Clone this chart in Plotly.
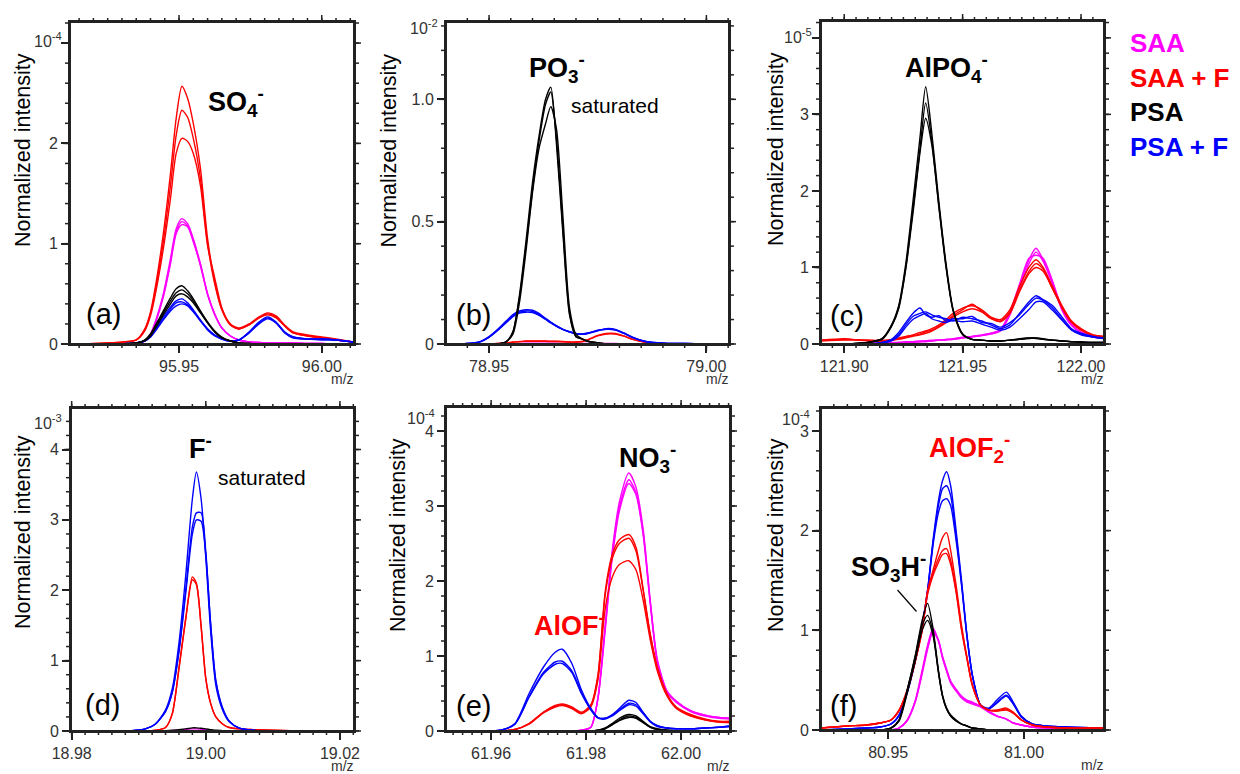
import math
import plotly.graph_objects as go

# Reference canvas is 1240x774; the page adds an 8 px body margin, so the figure is
# drawn 8 px smaller and all reference pixel positions are shifted by that offset.
REF_W, REF_H = 1240, 774
OFF = 8
W, H = REF_W - OFF, REF_H - OFF

# ---------------- data ----------------
# (a) SO4-
xa = [95.912, 95.925, 95.935, 95.938, 95.940, 95.942, 95.9445, 95.947, 95.949, 95.951, 95.953, 95.955, 95.9575, 95.960,
      95.9625, 95.965, 95.968, 95.971, 95.9745, 95.978, 95.981, 95.984, 95.987, 95.990, 95.995, 96.000, 96.005, 96.011]
a_saa_1 = [0, 0, 0.005, 0.03, 0.10, 0.25, 0.50, 0.85, 1.15, 1.25, 1.20, 1.05, 0.80, 0.50, 0.30, 0.16, 0.08, 0.04, 0.02, 0.015, 0.01, 0.01, 0.01, 0.01, 0.005, 0.005, 0, 0]
a_saa_2 = [0, 0, 0.005, 0.03, 0.09, 0.24, 0.48, 0.82, 1.12, 1.22, 1.18, 1.03, 0.78, 0.49, 0.29, 0.16, 0.08, 0.04, 0.02, 0.015, 0.01, 0.01, 0.01, 0.01, 0.005, 0.005, 0, 0]
a_saa_3 = [0, 0, 0.005, 0.03, 0.09, 0.23, 0.47, 0.80, 1.10, 1.19, 1.17, 1.02, 0.79, 0.50, 0.30, 0.16, 0.08, 0.04, 0.02, 0.015, 0.01, 0.01, 0.01, 0.01, 0.005, 0.005, 0, 0]
a_saaf_1 = [0.0, 0.01, 0.04, 0.15, 0.32, 0.62, 1.10, 1.70, 2.25, 2.57, 2.45, 2.20, 1.75, 1.05, 0.62, 0.35, 0.20, 0.16, 0.20, 0.27, 0.31, 0.28, 0.19, 0.12, 0.09, 0.07, 0.05, 0.02]
a_saaf_2 = [0.0, 0.01, 0.04, 0.14, 0.30, 0.58, 1.02, 1.58, 2.08, 2.33, 2.26, 2.05, 1.65, 1.00, 0.60, 0.34, 0.19, 0.15, 0.19, 0.26, 0.30, 0.27, 0.18, 0.11, 0.08, 0.06, 0.04, 0.02]
a_saaf_3 = [0.0, 0.01, 0.04, 0.13, 0.28, 0.54, 0.95, 1.45, 1.90, 2.05, 2.02, 1.90, 1.58, 0.98, 0.66, 0.36, 0.19, 0.15, 0.19, 0.26, 0.29, 0.26, 0.18, 0.11, 0.08, 0.06, 0.04, 0.02]
a_psa_1 = [0, 0, 0.01, 0.04, 0.10, 0.20, 0.33, 0.46, 0.55, 0.58, 0.53, 0.45, 0.33, 0.22, 0.13, 0.07, 0.03, 0.01, 0.005, 0, 0, 0, 0, 0, 0, 0, 0, 0]
a_psa_2 = [0, 0, 0.01, 0.04, 0.09, 0.19, 0.31, 0.43, 0.51, 0.54, 0.50, 0.43, 0.32, 0.21, 0.12, 0.06, 0.03, 0.01, 0.005, 0, 0, 0, 0, 0, 0, 0, 0, 0]
a_psa_3 = [0, 0, 0.01, 0.03, 0.08, 0.17, 0.29, 0.40, 0.48, 0.50, 0.47, 0.41, 0.31, 0.21, 0.12, 0.06, 0.03, 0.01, 0.005, 0, 0, 0, 0, 0, 0, 0, 0, 0]
a_psaf_1 = [0, 0, 0.01, 0.03, 0.08, 0.16, 0.27, 0.37, 0.43, 0.45, 0.41, 0.34, 0.24, 0.15, 0.09, 0.05, 0.03, 0.04, 0.12, 0.22, 0.27, 0.22, 0.12, 0.07, 0.05, 0.05, 0.04, 0.02]
a_psaf_2 = [0, 0, 0.01, 0.03, 0.07, 0.15, 0.25, 0.35, 0.41, 0.42, 0.39, 0.33, 0.23, 0.15, 0.09, 0.05, 0.03, 0.04, 0.11, 0.21, 0.26, 0.21, 0.12, 0.07, 0.05, 0.05, 0.04, 0.02]
a_psaf_3 = [0, 0, 0.01, 0.03, 0.07, 0.14, 0.24, 0.33, 0.38, 0.40, 0.38, 0.32, 0.23, 0.14, 0.08, 0.05, 0.03, 0.04, 0.11, 0.20, 0.25, 0.21, 0.11, 0.06, 0.05, 0.04, 0.04, 0.02]

# (b) PO3-
xb = [78.940, 78.945, 78.948, 78.950, 78.952, 78.954, 78.9555, 78.957, 78.9585, 78.960, 78.9615, 78.963, 78.9642, 78.9655,
      78.967, 78.9685, 78.970, 78.9715, 78.973, 78.975, 78.977, 78.979, 78.981, 78.983, 78.986, 78.990, 78.995, 79.000, 79.0052]
b_saa_1 = [0, 0, 0, 0, 0, 0, 0.001, 0.002, 0.003, 0.003, 0.003, 0.003, 0.003, 0.003, 0.002, 0.002, 0.002, 0.002, 0.002, 0.002, 0.002, 0.002, 0.001, 0.001, 0, 0, 0, 0, 0]
b_saaf_1 = [0, 0, 0, 0, 0.002, 0.005, 0.008, 0.010, 0.012, 0.012, 0.012, 0.012, 0.011, 0.011, 0.010, 0.008, 0.008, 0.010, 0.020, 0.035, 0.043, 0.043, 0.033, 0.020, 0.007, 0.002, 0, 0, 0]
b_saaf_2 = [0, 0, 0, 0, 0.002, 0.004, 0.007, 0.009, 0.011, 0.011, 0.011, 0.011, 0.010, 0.010, 0.009, 0.008, 0.008, 0.010, 0.019, 0.033, 0.041, 0.041, 0.032, 0.019, 0.007, 0.002, 0, 0, 0]
b_psa_1 = [0, 0, 0, 0, 0, 0.01, 0.05, 0.20, 0.42, 0.66, 0.85, 1.00, 1.05, 0.82, 0.45, 0.12, 0.03, 0.02, 0.01, 0.005, 0, 0, 0, 0, 0, 0, 0, 0, 0]
b_psa_2 = [0, 0, 0, 0, 0, 0.01, 0.05, 0.19, 0.40, 0.63, 0.83, 0.98, 1.03, 0.84, 0.47, 0.13, 0.03, 0.02, 0.01, 0.005, 0, 0, 0, 0, 0, 0, 0, 0, 0]
b_psa_3 = [0, 0, 0, 0, 0, 0.01, 0.04, 0.17, 0.38, 0.62, 0.80, 0.90, 0.97, 0.88, 0.52, 0.15, 0.04, 0.02, 0.01, 0.005, 0, 0, 0, 0, 0, 0, 0, 0, 0]
b_psaf_1 = [0, 0.002, 0.010, 0.030, 0.060, 0.095, 0.120, 0.135, 0.140, 0.138, 0.125, 0.105, 0.090, 0.075, 0.060, 0.050, 0.042, 0.040, 0.045, 0.055, 0.063, 0.060, 0.045, 0.028, 0.010, 0.003, 0.002, 0.001, 0]
b_psaf_2 = [0, 0.002, 0.010, 0.028, 0.058, 0.090, 0.115, 0.130, 0.135, 0.133, 0.120, 0.102, 0.088, 0.073, 0.060, 0.050, 0.043, 0.041, 0.046, 0.056, 0.062, 0.059, 0.045, 0.027, 0.010, 0.003, 0.002, 0.001, 0]
b_psaf_3 = [0, 0.002, 0.009, 0.027, 0.055, 0.088, 0.112, 0.126, 0.130, 0.128, 0.117, 0.100, 0.086, 0.072, 0.059, 0.049, 0.042, 0.040, 0.044, 0.054, 0.060, 0.057, 0.043, 0.026, 0.010, 0.003, 0.002, 0.001, 0]

# (c) AlPO4-
xc = [121.8902, 121.900, 121.910, 121.916, 121.920, 121.923, 121.926, 121.929, 121.932, 121.9344, 121.937, 121.940, 121.943, 121.946, 121.950,
      121.954, 121.958, 121.962, 121.966, 121.970, 121.974, 121.978, 121.981, 121.984, 121.988, 121.992, 121.996, 122.000, 122.005, 122.0097]
c_saa_1 = [0, 0, 0.01, 0.01, 0.02, 0.02, 0.03, 0.03, 0.04, 0.04, 0.05, 0.05, 0.06, 0.07, 0.09, 0.10, 0.12, 0.14, 0.18, 0.40, 0.75, 1.10, 1.25, 1.10, 0.80, 0.45, 0.25, 0.15, 0.10, 0.07]
c_saa_2 = [0, 0, 0, 0.01, 0.01, 0.02, 0.02, 0.03, 0.03, 0.04, 0.04, 0.05, 0.05, 0.06, 0.08, 0.10, 0.11, 0.13, 0.17, 0.38, 0.72, 1.05, 1.20, 1.08, 0.78, 0.44, 0.24, 0.15, 0.09, 0.07]
c_saa_3 = [0, 0, 0.01, 0.01, 0.01, 0.02, 0.02, 0.02, 0.03, 0.03, 0.04, 0.05, 0.06, 0.06, 0.08, 0.09, 0.11, 0.14, 0.19, 0.42, 0.78, 1.12, 1.16, 1.12, 0.82, 0.46, 0.26, 0.16, 0.10, 0.08]
c_saaf_1 = [0.05, 0.06, 0.05, 0.04, 0.06, 0.08, 0.10, 0.12, 0.15, 0.17, 0.20, 0.25, 0.32, 0.40, 0.47, 0.50, 0.45, 0.35, 0.32, 0.45, 0.75, 1.00, 1.10, 1.00, 0.75, 0.50, 0.30, 0.20, 0.12, 0.10]
c_saaf_2 = [0.05, 0.07, 0.04, 0.05, 0.05, 0.07, 0.09, 0.11, 0.13, 0.16, 0.18, 0.23, 0.30, 0.37, 0.45, 0.52, 0.43, 0.33, 0.30, 0.42, 0.70, 0.95, 1.05, 0.98, 0.72, 0.48, 0.28, 0.18, 0.11, 0.09]
c_saaf_3 = [0.04, 0.05, 0.05, 0.04, 0.05, 0.06, 0.08, 0.10, 0.12, 0.14, 0.17, 0.22, 0.28, 0.35, 0.42, 0.46, 0.42, 0.34, 0.29, 0.40, 0.68, 0.92, 1.00, 0.95, 0.72, 0.47, 0.29, 0.19, 0.12, 0.10]
c_psa_1 = [0, 0, 0.02, 0.07, 0.25, 0.50, 1.05, 1.85, 2.70, 3.36, 2.75, 1.85, 1.05, 0.45, 0.13, 0.06, 0.05, 0.04, 0.04, 0.05, 0.07, 0.08, 0.08, 0.07, 0.05, 0.04, 0.03, 0.03, 0.02, 0.02]
c_psa_2 = [0, 0, 0.02, 0.07, 0.24, 0.48, 1.00, 1.75, 2.55, 3.15, 2.65, 1.80, 1.02, 0.44, 0.13, 0.06, 0.05, 0.04, 0.04, 0.05, 0.06, 0.07, 0.08, 0.06, 0.05, 0.04, 0.03, 0.02, 0.02, 0.02]
c_psa_3 = [0, 0, 0.02, 0.06, 0.23, 0.46, 0.98, 1.70, 2.50, 2.95, 2.60, 1.78, 1.00, 0.43, 0.12, 0.06, 0.05, 0.04, 0.04, 0.05, 0.06, 0.08, 0.07, 0.06, 0.05, 0.04, 0.03, 0.02, 0.02, 0.02]
c_psaf_1 = [0, 0, 0, 0.02, 0.05, 0.12, 0.25, 0.36, 0.40, 0.42, 0.38, 0.35, 0.33, 0.30, 0.35, 0.33, 0.30, 0.25, 0.20, 0.25, 0.40, 0.55, 0.63, 0.58, 0.50, 0.35, 0.20, 0.14, 0.10, 0.08]
c_psaf_2 = [0, 0, 0, 0.02, 0.06, 0.15, 0.28, 0.40, 0.47, 0.38, 0.35, 0.37, 0.30, 0.33, 0.33, 0.36, 0.28, 0.27, 0.22, 0.28, 0.38, 0.52, 0.60, 0.57, 0.47, 0.32, 0.19, 0.13, 0.09, 0.07]
c_psaf_3 = [0, 0, 0, 0.01, 0.04, 0.10, 0.22, 0.32, 0.37, 0.40, 0.33, 0.30, 0.28, 0.31, 0.29, 0.30, 0.26, 0.22, 0.18, 0.22, 0.33, 0.45, 0.55, 0.55, 0.44, 0.31, 0.18, 0.12, 0.09, 0.07]

# (d) F-
xd = [18.980, 18.985, 18.989, 18.991, 18.9925, 18.994, 18.995, 18.996, 18.997, 18.998, 18.9986, 18.9993, 19.000, 19.0007,
      19.0015, 19.0025, 19.0035, 19.005, 19.007, 19.010, 19.015, 19.022]
d_saa_1 = [0, 0, 0, 0, 0, 0.003, 0.007, 0.015, 0.025, 0.030, 0.030, 0.025, 0.020, 0.012, 0.006, 0.003, 0, 0, 0, 0, 0, 0]
d_saaf_1 = [0, 0, 0, 0, 0.01, 0.05, 0.25, 0.90, 1.60, 2.19, 2.10, 1.50, 0.75, 0.40, 0.20, 0.10, 0.05, 0.03, 0.02, 0.01, 0, 0]
d_saaf_2 = [0, 0, 0, 0, 0.01, 0.05, 0.24, 0.88, 1.58, 2.15, 2.08, 1.48, 0.74, 0.40, 0.20, 0.10, 0.05, 0.03, 0.02, 0.01, 0, 0]
d_psa_1 = [0, 0, 0, 0, 0, 0.005, 0.01, 0.02, 0.03, 0.045, 0.045, 0.04, 0.03, 0.02, 0.01, 0.005, 0, 0, 0, 0, 0, 0]
d_psaf_1 = [0, 0, 0.005, 0.03, 0.10, 0.30, 0.60, 1.25, 2.20, 3.30, 3.68, 3.30, 2.47, 1.45, 0.65, 0.30, 0.13, 0.04, 0.01, 0, 0, 0]
d_psaf_2 = [0, 0, 0.005, 0.03, 0.10, 0.28, 0.55, 1.15, 2.00, 2.90, 3.10, 3.10, 2.55, 1.55, 0.70, 0.32, 0.14, 0.04, 0.01, 0, 0, 0]
d_psaf_3 = [0, 0, 0.005, 0.03, 0.10, 0.28, 0.55, 1.12, 1.95, 2.80, 3.00, 2.98, 2.50, 1.55, 0.72, 0.33, 0.14, 0.04, 0.01, 0, 0, 0]

# (e) NO3- / AlOF-
xe = [61.9505, 61.958, 61.962, 61.965, 61.968, 61.971, 61.9735, 61.975, 61.977, 61.979, 61.981, 61.9825, 61.984, 61.9855,
      61.987, 61.989, 61.9905, 61.992, 61.9935, 61.995, 61.997, 61.999, 62.002, 62.005, 62.008, 62.0103]
e_saa_1 = [0, 0, 0, 0, 0, 0, 0, 0, 0, 0.01, 0.05, 0.45, 1.40, 2.40, 3.05, 3.44, 3.25, 2.70, 1.75, 0.95, 0.54, 0.40, 0.27, 0.21, 0.18, 0.17]
e_saa_2 = [0, 0, 0, 0, 0, 0, 0, 0, 0, 0.01, 0.05, 0.44, 1.36, 2.35, 2.98, 3.35, 3.18, 2.65, 1.72, 0.93, 0.53, 0.39, 0.27, 0.21, 0.18, 0.17]
e_saa_3 = [0, 0, 0, 0, 0, 0, 0, 0, 0, 0.01, 0.05, 0.43, 1.33, 2.30, 2.93, 3.30, 3.15, 2.62, 1.70, 0.92, 0.52, 0.38, 0.26, 0.20, 0.17, 0.16]
e_saaf_1 = [0, 0, 0, 0.02, 0.10, 0.25, 0.34, 0.36, 0.32, 0.25, 0.35, 0.75, 1.85, 2.35, 2.55, 2.62, 2.45, 1.90, 1.30, 0.85, 0.50, 0.32, 0.22, 0.16, 0.13, 0.13]
e_saaf_2 = [0, 0, 0, 0.02, 0.10, 0.25, 0.33, 0.35, 0.31, 0.24, 0.34, 0.73, 1.80, 2.30, 2.50, 2.57, 2.40, 1.88, 1.28, 0.84, 0.49, 0.31, 0.21, 0.15, 0.12, 0.12]
e_saaf_3 = [0, 0, 0, 0.02, 0.09, 0.24, 0.32, 0.34, 0.30, 0.23, 0.32, 0.68, 1.62, 2.05, 2.22, 2.27, 2.15, 1.75, 1.22, 0.80, 0.47, 0.30, 0.20, 0.15, 0.12, 0.11]
e_psa_1 = [0, 0, 0, 0, 0, 0, 0, 0, 0, 0, 0, 0.01, 0.04, 0.10, 0.17, 0.22, 0.20, 0.13, 0.06, 0.03, 0.01, 0, 0, 0, 0, 0]
e_psa_2 = [0, 0, 0, 0, 0, 0, 0, 0, 0, 0, 0, 0.01, 0.03, 0.09, 0.15, 0.20, 0.18, 0.12, 0.05, 0.02, 0.01, 0, 0, 0, 0, 0]
e_psa_3 = [0, 0, 0, 0, 0, 0, 0, 0, 0, 0, 0, 0.01, 0.03, 0.08, 0.14, 0.18, 0.17, 0.11, 0.05, 0.02, 0.01, 0, 0, 0, 0, 0]
e_psaf_1 = [0, 0, 0.01, 0.10, 0.50, 0.85, 1.05, 1.09, 0.90, 0.55, 0.30, 0.18, 0.17, 0.22, 0.30, 0.41, 0.38, 0.25, 0.13, 0.07, 0.04, 0.03, 0.03, 0.04, 0.05, 0.07]
e_psaf_2 = [0, 0, 0.01, 0.09, 0.46, 0.78, 0.92, 0.93, 0.80, 0.52, 0.29, 0.18, 0.17, 0.21, 0.28, 0.37, 0.35, 0.24, 0.13, 0.07, 0.04, 0.03, 0.03, 0.04, 0.05, 0.06]
e_psaf_3 = [0, 0, 0.01, 0.09, 0.45, 0.76, 0.89, 0.90, 0.78, 0.50, 0.28, 0.17, 0.16, 0.20, 0.27, 0.35, 0.33, 0.23, 0.12, 0.06, 0.04, 0.03, 0.03, 0.04, 0.05, 0.06]

# (f) SO3H- / AlOF2-
xf = [80.9253, 80.935, 80.942, 80.947, 80.951, 80.954, 80.957, 80.960, 80.9625, 80.9645, 80.9665, 80.9685, 80.970, 80.9715, 80.973,
      80.975, 80.977, 80.979, 80.981, 80.984, 80.987, 80.990, 80.9935, 80.996, 80.999, 81.003, 81.008, 81.015, 81.0294]
f_saa_1 = [0, 0, 0, 0, 0, 0.02, 0.10, 0.30, 0.60, 0.85, 1.02, 0.90, 0.73, 0.60, 0.48, 0.40, 0.33, 0.29, 0.27, 0.24, 0.18, 0.14, 0.11, 0.07, 0.05, 0.03, 0.02, 0.01, 0.01]
f_saa_2 = [0, 0, 0, 0, 0, 0.02, 0.10, 0.29, 0.58, 0.83, 1.00, 0.89, 0.72, 0.59, 0.47, 0.39, 0.32, 0.28, 0.26, 0.23, 0.18, 0.14, 0.11, 0.07, 0.05, 0.03, 0.02, 0.01, 0.01]
f_saa_3 = [0, 0, 0, 0, 0, 0.02, 0.09, 0.28, 0.56, 0.81, 0.98, 0.90, 0.74, 0.61, 0.49, 0.41, 0.34, 0.30, 0.28, 0.24, 0.19, 0.14, 0.11, 0.07, 0.05, 0.03, 0.02, 0.01, 0.01]
f_saaf_1 = [0.02, 0.04, 0.05, 0.07, 0.10, 0.20, 0.40, 0.70, 1.00, 1.40, 1.60, 1.80, 1.93, 1.98, 1.80, 1.45, 1.05, 0.73, 0.45, 0.25, 0.20, 0.20, 0.22, 0.18, 0.10, 0.05, 0.03, 0.02, 0.02]
f_saaf_2 = [0.02, 0.04, 0.05, 0.07, 0.10, 0.20, 0.40, 0.70, 1.00, 1.38, 1.57, 1.72, 1.80, 1.82, 1.70, 1.40, 1.02, 0.72, 0.45, 0.25, 0.20, 0.19, 0.21, 0.17, 0.10, 0.05, 0.03, 0.02, 0.02]
f_saaf_3 = [0.02, 0.04, 0.05, 0.07, 0.10, 0.19, 0.39, 0.69, 1.00, 1.36, 1.55, 1.68, 1.76, 1.77, 1.66, 1.38, 1.00, 0.71, 0.44, 0.25, 0.20, 0.19, 0.20, 0.17, 0.10, 0.05, 0.03, 0.02, 0.02]
f_psa_1 = [0, 0, 0, 0, 0.02, 0.10, 0.40, 0.75, 1.10, 1.27, 1.02, 0.60, 0.35, 0.22, 0.15, 0.10, 0.06, 0.04, 0.02, 0.01, 0, 0, 0, 0, 0, 0, 0, 0, 0]
f_psa_2 = [0, 0, 0, 0, 0.02, 0.10, 0.40, 0.74, 1.05, 1.15, 0.98, 0.58, 0.34, 0.21, 0.14, 0.09, 0.06, 0.04, 0.02, 0.01, 0, 0, 0, 0, 0, 0, 0, 0, 0]
f_psa_3 = [0, 0, 0, 0, 0.02, 0.09, 0.37, 0.70, 1.00, 1.10, 0.95, 0.58, 0.34, 0.21, 0.14, 0.09, 0.06, 0.04, 0.02, 0.01, 0, 0, 0, 0, 0, 0, 0, 0, 0]
f_psaf_1 = [0, 0.01, 0.02, 0.03, 0.06, 0.15, 0.38, 0.70, 1.05, 1.40, 1.90, 2.30, 2.50, 2.59, 2.45, 2.00, 1.50, 0.95, 0.55, 0.25, 0.22, 0.30, 0.38, 0.28, 0.14, 0.06, 0.04, 0.03, 0.02]
f_psaf_2 = [0, 0.01, 0.02, 0.03, 0.06, 0.15, 0.38, 0.70, 1.05, 1.40, 1.88, 2.25, 2.42, 2.45, 2.35, 1.95, 1.47, 0.94, 0.55, 0.25, 0.21, 0.28, 0.35, 0.27, 0.13, 0.06, 0.04, 0.03, 0.02]
f_psaf_3 = [0, 0.01, 0.02, 0.03, 0.06, 0.14, 0.37, 0.69, 1.03, 1.38, 1.85, 2.18, 2.30, 2.32, 2.25, 1.90, 1.45, 0.93, 0.54, 0.25, 0.21, 0.27, 0.34, 0.26, 0.13, 0.06, 0.04, 0.03, 0.02]

legend_labels = ["SAA", "SAA + F", "PSA", "PSA + F"]
C_SAA, C_SAAF, C_PSA, C_PSAF = "#ff00ff", "#ff0000", "#000000", "#0000ff"
legend_colors = [C_SAA, C_SAAF, C_PSA, C_PSAF]

# ---------------- layout helpers (reference pixel -> paper fraction) ----------------
def fx(p):
    return (p - OFF) / W

def fy(p):
    return 1 - (p - OFF) / H

FONT = "Liberation Sans, Arial, sans-serif"
FRAME = "#222222"

panels = [
    dict(x=xa, series=[(a_saa_1, C_SAA), (a_saa_2, C_SAA), (a_saa_3, C_SAA),
                       (a_saaf_1, C_SAAF), (a_saaf_2, C_SAAF), (a_saaf_3, C_SAAF),
                       (a_psaf_1, C_PSAF), (a_psaf_2, C_PSAF), (a_psaf_3, C_PSAF),
                       (a_psa_1, C_PSA), (a_psa_2, C_PSA), (a_psa_3, C_PSA)],
         box=(70, 354, 22, 344), xr=[95.9118, 96.0113], yr=[0, 3.21],
         xt=[95.95, 96.00], xtt=["95.95", "96.00"], xm=(95.95, 0.005),
         yt=[0, 1, 2, 3], ytt=["0", "1", "2", " "], ym=0.2,
         exp=("10<sup>-4</sup>", 64, 40), ttl=(23, 150)),
    dict(x=xb, series=[(b_saa_1, C_SAA), (b_saaf_1, C_SAAF), (b_saaf_2, C_SAAF),
                       (b_psaf_1, C_PSAF), (b_psaf_2, C_PSAF), (b_psaf_3, C_PSAF),
                       (b_psa_1, C_PSA), (b_psa_2, C_PSA), (b_psa_3, C_PSA)],
         box=(446, 729, 22, 344), xr=[78.9401, 79.0052], yr=[0, 1.316],
         xt=[78.95, 79.00], xtt=["78.95", "79.00"], xm=(78.95, 0.005),
         yt=[0, 0.5, 1.0], ytt=["0", "0.5", "1.0"], ym=0.1,
         exp=("10<sup>-2</sup>", 440, 27), ttl=(388.5, 151)),
    dict(x=xc, series=[(c_saa_1, C_SAA), (c_saa_2, C_SAA), (c_saa_3, C_SAA),
                       (c_saaf_1, C_SAAF), (c_saaf_2, C_SAAF), (c_saaf_3, C_SAAF),
                       (c_psaf_1, C_PSAF), (c_psaf_2, C_PSAF), (c_psaf_3, C_PSAF),
                       (c_psa_1, C_PSA), (c_psa_2, C_PSA), (c_psa_3, C_PSA)],
         box=(821, 1104, 21, 344), xr=[121.8902, 122.0097], yr=[0, 4.22],
         xt=[121.90, 121.95, 122.00], xtt=["121.90", "121.95", "122.00"], xm=(121.90, 0.005),
         yt=[0, 1, 2, 3, 4], ytt=["0", "1", "2", "3", " "], ym=0.2,
         exp=("10<sup>-5</sup>", 814, 36), ttl=(776, 149)),
    dict(x=xd, series=[(d_saa_1, C_SAA), (d_saaf_1, C_SAAF), (d_saaf_2, C_SAAF),
                       (d_psaf_1, C_PSAF), (d_psaf_2, C_PSAF), (d_psaf_3, C_PSAF),
                       (d_psa_1, C_PSA)],
         box=(71, 354, 408, 731), xr=[18.9799, 19.0221], yr=[0, 4.59],
         xt=[18.98, 19.00, 19.02], xtt=["18.98", "19.00", "19.02"], xm=(18.98, 0.002),
         yt=[0, 1, 2, 3, 4], ytt=["0", "1", "2", "3", "4"], ym=0.2,
         exp=("10<sup>-3</sup>", 64, 422), ttl=(23, 532)),
    dict(x=xe, series=[(e_saa_1, C_SAA), (e_saa_2, C_SAA), (e_saa_3, C_SAA),
                       (e_saaf_1, C_SAAF), (e_saaf_2, C_SAAF), (e_saaf_3, C_SAAF),
                       (e_psaf_1, C_PSAF), (e_psaf_2, C_PSAF), (e_psaf_3, C_PSAF),
                       (e_psa_1, C_PSA), (e_psa_2, C_PSA), (e_psa_3, C_PSA)],
         box=(446, 730, 407, 731), xr=[61.9505, 62.0103], yr=[0, 4.32],
         xt=[61.96, 61.98, 62.00], xtt=["61.96", "61.98", "62.00"], xm=(61.96, 0.002),
         yt=[0, 1, 2, 3, 4], ytt=["0", "1", "2", "3", "4"], ym=0.2,
         exp=("10<sup>-4</sup>", 437, 417), ttl=(398, 535)),
    dict(x=xf, series=[(f_saa_1, C_SAA), (f_saa_2, C_SAA), (f_saa_3, C_SAA),
                       (f_psaf_1, C_PSAF), (f_psaf_2, C_PSAF), (f_psaf_3, C_PSAF),
                       (f_saaf_1, C_SAAF), (f_saaf_2, C_SAAF), (f_saaf_3, C_SAAF),
                       (f_psa_1, C_PSA), (f_psa_2, C_PSA), (f_psa_3, C_PSA)],
         box=(821, 1104, 408, 730), xr=[80.9253, 81.0294], yr=[0, 3.23],
         xt=[80.95, 81.00], xtt=["80.95", "81.00"], xm=(80.95, 0.005),
         yt=[0, 1, 2, 3], ytt=["0", "1", "2", "3"], ym=0.2,
         exp=("10<sup>-4</sup>", 812, 418), ttl=(776, 535)),
]

fig = go.Figure()
layout = {}
annotations = []
shapes = []

axis_common = dict(
    showline=True, linecolor=FRAME, linewidth=2, mirror=True,
    ticks="outside", ticklen=7, tickwidth=1.5, tickcolor=FRAME,
    showgrid=False, zeroline=False, tickmode="array", automargin=False,
    tickfont=dict(family=FONT, size=16, color="#333333"),
)

def tick_steps(lo, hi, t0, step):
    n0 = math.ceil((lo - t0) / step - 1e-9)
    n1 = math.floor((hi - t0) / step + 1e-9)
    return [t0 + n * step for n in range(n0, n1 + 1)]

def seg(xa0, ya0, xa1, ya1, w=1.5, color=FRAME):
    shapes.append(dict(type="line", xref="paper", yref="paper", layer="above",
                       x0=fx(xa0), y0=fy(ya0), x1=fx(xa1), y1=fy(ya1),
                       line=dict(color=color, width=w)))

MINOR = 4
MAJOR = 7

for i, p in enumerate(panels, start=1):
    xs = "x" if i == 1 else f"x{i}"
    ys = "y" if i == 1 else f"y{i}"
    for yv, col in p["series"]:
        fig.add_trace(go.Scatter(
            x=p["x"], y=yv, xaxis=xs, yaxis=ys, mode="lines",
            line=dict(color=col, width=1.4, shape="spline", smoothing=0.7),
            showlegend=False, hoverinfo="skip"))
    x0, x1, y0, y1 = p["box"]
    layout["xaxis" if i == 1 else f"xaxis{i}"] = dict(
        axis_common, domain=[fx(x0), fx(x1)], range=p["xr"], anchor=ys,
        tickvals=p["xt"], ticktext=p["xtt"])
    layout["yaxis" if i == 1 else f"yaxis{i}"] = dict(
        axis_common, domain=[fy(y1), fy(y0)], range=p["yr"], anchor=xs,
        tickvals=p["yt"], ticktext=p["ytt"])

    seg(x0, y0, x1, y0, 2)
    seg(x0, y1, x1, y1, 2)
    seg(x0, y0, x0, y1, 2)
    seg(x1, y0, x1, y1, 2)

    xr0, xr1 = p["xr"]
    yr0, yr1 = p["yr"]
    def xpix(v):
        return x0 + (v - xr0) / (xr1 - xr0) * (x1 - x0)
    def ypix(v):
        return y1 - (v - yr0) / (yr1 - yr0) * (y1 - y0)

    for v in tick_steps(xr0, xr1, p["xm"][0], p["xm"][1]):
        X = xpix(v)
        seg(X, y1, X, y1 + MINOR)
        seg(X, y0, X, y0 - MINOR)
    for v in tick_steps(yr0, yr1, 0.0, p["ym"]):
        Y = ypix(v)
        seg(x0 - MINOR - 1, Y, x0, Y)
        seg(x1, Y, x1 + MINOR + 1, Y)
    for v in p["xt"]:
        X = xpix(v)
        seg(X, y1, X, y1 + MAJOR)
        seg(X, y0, X, y0 - MAJOR)
    for v in p["yt"]:
        Y = ypix(v)
        seg(x0 - MAJOR, Y, x0, Y)
        seg(x1, Y, x1 + MAJOR, Y)

    etxt, ex, ey = p["exp"]
    annotations.append(dict(text=etxt, x=fx(ex), y=fy(ey), xref="paper", yref="paper",
                            xanchor="right", yanchor="middle", showarrow=False,
                            font=dict(family=FONT, size=16, color="#333333")))
    tx, ty = p["ttl"]
    annotations.append(dict(text="Normalized intensity", x=fx(tx), y=fy(ty),
                            xref="paper", yref="paper", textangle=-90, showarrow=False,
                            xanchor="center", yanchor="middle",
                            font=dict(family=FONT, size=21.5, color="black")))
    annotations.append(dict(text="m/z", x=fx(x1 - 12), y=fy(y1 + 35), xref="paper", yref="paper",
                            showarrow=False, xanchor="center", yanchor="middle",
                            font=dict(family=FONT, size=14, color="#333333")))

def label(text, x, y, size, color="black", anchor="center"):
    annotations.append(dict(text=text, x=fx(x), y=fy(y), xref="paper", yref="paper",
                            showarrow=False, xanchor=anchor, yanchor="middle",
                            font=dict(family=FONT, size=size, color=color)))

for t, x, y in [("(a)", 103, 314), ("(b)", 473, 315), ("(c)", 847, 316),
                ("(d)", 102, 705), ("(e)", 473, 706), ("(f)", 843, 706)]:
    label(t, x, y, 29)

label("<b>SO<sub>4</sub><sup>-</sup></b>", 236, 102, 27)
label("<b>PO<sub>3</sub><sup>-</sup></b>", 557, 68, 27)
label("saturated", 615, 106, 21)
label("<b>AlPO<sub>4</sub><sup>-</sup></b>", 946, 68, 27)
label("<b>F<sup>-</sup></b>", 200, 447, 27)
label("saturated", 262, 478, 21)
label("<b>NO<sub>3</sub><sup>-</sup></b>", 647, 458, 27)
label("<b>AlOF<sup>-</sup></b>", 569, 624, 27, C_SAAF)
label("<b>AlOF<sub>2</sub><sup>-</sup></b>", 969, 448, 27, C_SAAF)
label("<b>SO<sub>3</sub>H<sup>-</sup></b>", 888, 567, 27)

seg(897.5, 590, 916.5, 611.5, 1.2, "black")

for k, (lab, col) in enumerate(zip(legend_labels, legend_colors)):
    label("<b>" + lab + "</b>", 1128, 43 + k * 34.7, 26, col, anchor="left")

fig.update_layout(
    width=W, height=H,
    margin=dict(l=0, r=0, t=0, b=0, pad=0, autoexpand=False),
    paper_bgcolor="white", plot_bgcolor="white",
    annotations=annotations, shapes=shapes, showlegend=False,
    **layout,
)

fig.write_html("out.html")
